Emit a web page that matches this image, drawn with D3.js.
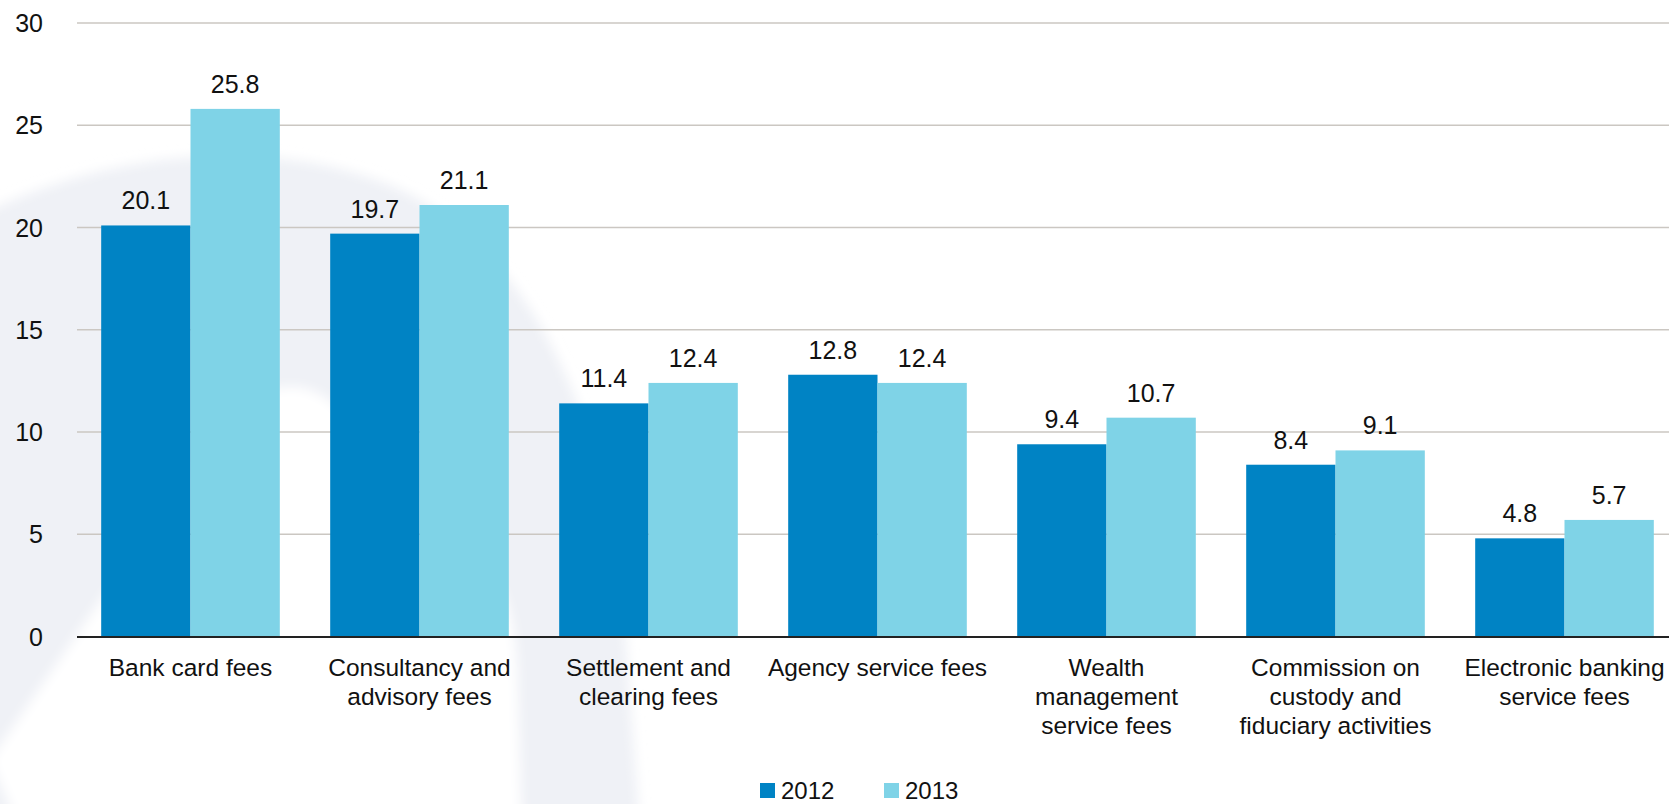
<!DOCTYPE html>
<html>
<head>
<meta charset="utf-8">
<script src="https://cdn.jsdelivr.net/npm/d3@7"></script>
<style>
  html, body { margin: 0; padding: 0; background: #fff; }
  svg { display: block; }
  text { font-family: "Liberation Sans", Arial, sans-serif; fill: #111; }
</style>
</head>
<body>
<script>
// Fee and commission income by type (RMB bn)
const categories = [
  "Bank card fees",
  "Consultancy and advisory fees",
  "Settlement and clearing fees",
  "Agency service fees",
  "Wealth management service fees",
  "Commission on custody and fiduciary activities",
  "Electronic banking service fees"
];
// wrapped lines for the category axis
const categoryLines = [
  ["Bank card fees"],
  ["Consultancy and", "advisory fees"],
  ["Settlement and", "clearing fees"],
  ["Agency service fees"],
  ["Wealth", "management", "service fees"],
  ["Commission on", "custody and", "fiduciary activities"],
  ["Electronic banking", "service fees"]
];
const seriesNames = ["2012", "2013"];
const values2012 = [20.1, 19.7, 11.4, 12.8, 9.4, 8.4, 4.8];
const values2013 = [25.8, 21.1, 12.4, 12.4, 10.7, 9.1, 5.7];
const yTicks = [0, 5, 10, 15, 20, 25, 30];
const colors = ["#0083C4", "#7FD3E7"];

const W = 1669, H = 804;
const svg = d3.select("body").append("svg").attr("width", W).attr("height", H);

// faint background emblem, softened
const defs = svg.append("defs");
defs.append("filter").attr("id", "soft").attr("x", "-20%").attr("y", "-20%").attr("width", "140%").attr("height", "140%")
  .append("feGaussianBlur").attr("stdDeviation", 6);
const bg = svg.append("g").attr("filter", "url(#soft)");
bg.append("path")
  .attr("d", "M-20,215 C90,160 250,130 390,185 C520,240 590,390 620,560 L640,830 L-20,830 Z")
  .attr("fill", "#EFF1F6");
bg.append("path")
  .attr("d", "M-10,760 L205,450 C240,395 290,365 335,405 L485,565 C512,595 518,640 518,700 L522,830 L20,830 Z")
  .attr("fill", "#FFFFFF");

const x0 = d3.scaleBand().domain(categories).range([76, 1679]).paddingInner(0.22).paddingOuter(0.11);
const x1 = d3.scaleBand().domain(seriesNames).range([0, x0.bandwidth()]);
const y = d3.scaleLinear().domain([0, 30]).range([636.5, 23]);

// gridlines
svg.append("g")
  .selectAll("line").data(yTicks.filter(d => d > 0)).join("line")
  .attr("x1", 77).attr("x2", W)
  .attr("y1", d => y(d)).attr("y2", d => y(d))
  .attr("stroke", "#CBC7C2").attr("stroke-width", 1.6);

// y tick labels
svg.append("g")
  .selectAll("text").data(yTicks).join("text")
  .attr("x", 43).attr("y", d => y(d))
  .attr("text-anchor", "end").attr("dominant-baseline", "central")
  .style("font-size", "25px")
  .text(d => d);

// bars
const rows = categories.map((c, i) => ({ cat: c, vals: [values2012[i], values2013[i]] }));
const groups = svg.append("g").selectAll("g").data(rows).join("g")
  .attr("transform", d => `translate(${x0(d.cat)},0)`);

groups.selectAll("rect").data(d => d.vals.map((v, k) => ({ key: seriesNames[k], v, k }))).join("rect")
  .attr("x", d => x1(d.key))
  .attr("width", x1.bandwidth())
  .attr("y", d => y(d.v))
  .attr("height", d => y(0) - y(d.v))
  .attr("fill", d => colors[d.k]);

groups.selectAll("text").data(d => d.vals.map((v, k) => ({ key: seriesNames[k], v, k }))).join("text")
  .attr("x", d => x1(d.key) + x1.bandwidth() / 2)
  .attr("y", d => y(d.v) - 16)
  .attr("text-anchor", "middle")
  .style("font-size", "25px")
  .text(d => d.v.toFixed(1));

// baseline axis
svg.append("line")
  .attr("x1", 77).attr("x2", W)
  .attr("y1", y(0) + 0.5).attr("y2", y(0) + 0.5)
  .attr("stroke", "#222").attr("stroke-width", 2);

// category labels
const catG = svg.append("g");
categories.forEach((c, i) => {
  const t = catG.append("text")
    .attr("x", x0(c) + x0.bandwidth() / 2)
    .attr("y", 676)
    .attr("text-anchor", "middle")
    .style("font-size", "24.5px");
  categoryLines[i].forEach((ln, j) => {
    t.append("tspan").attr("x", x0(c) + x0.bandwidth() / 2).attr("dy", j === 0 ? 0 : 29).text(ln);
  });
});

// legend
const legendX = [760, 884];
const lg = svg.append("g");
seriesNames.forEach((s, k) => {
  lg.append("rect").attr("x", legendX[k]).attr("y", 783).attr("width", 15).attr("height", 15).attr("fill", colors[k]);
  lg.append("text").attr("x", legendX[k] + 21).attr("y", 799).style("font-size", "24px").text(s);
});
</script>
</body>
</html>
